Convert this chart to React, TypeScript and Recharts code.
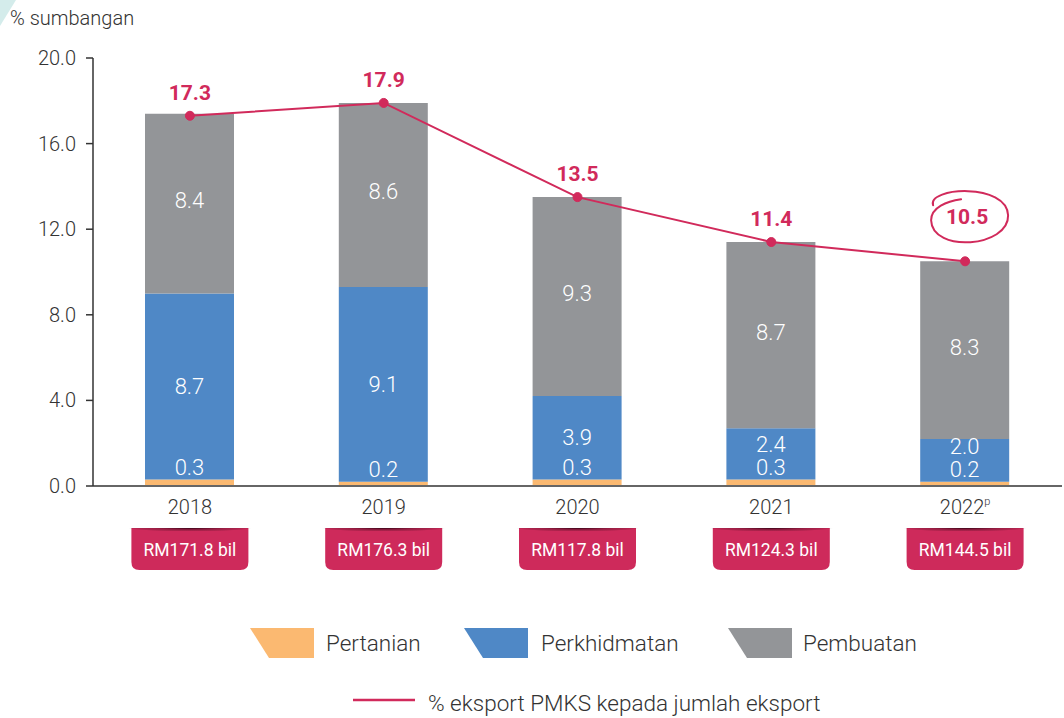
import React from 'react';
import { ComposedChart, Bar, Line, XAxis, YAxis, LabelList } from 'recharts';

const years = ['2018', '2019', '2020', '2021', '2022'];
const yearMarks = ['', '', '', '', 'p'];
const pertanian = [0.3, 0.2, 0.3, 0.3, 0.2];
const perkhidmatan = [8.7, 9.1, 3.9, 2.4, 2.0];
const pembuatan = [8.4, 8.6, 9.3, 8.7, 8.3];
const eksportShare = [17.3, 17.9, 13.5, 11.4, 10.5];
const eksportValue = ['RM171.8 bil', 'RM176.3 bil', 'RM117.8 bil', 'RM124.3 bil', 'RM144.5 bil'];
const highlighted = [false, false, false, false, true];
const yTicks = [0, 4, 8, 12, 16, 20];
const seriesNames = ['Pertanian', 'Perkhidmatan', 'Pembuatan'];
const lineName = '% eksport PMKS kepada jumlah eksport';
const yTitle = '% sumbangan';

const C_ORANGE = '#FBB971';
const C_BLUE = '#4F88C6';
const C_GRAY = '#939598';
const C_RED = '#D12A5B';
const C_TEXT = '#333333';
const FONT = 'Roboto, "Noto Sans", sans-serif';

const data = years.map((y, i) => ({
  year: y,
  mark: yearMarks[i],
  pertanian: pertanian[i],
  perkhidmatan: perkhidmatan[i],
  pembuatan: pembuatan[i],
  share: eksportShare[i],
  badge: eksportValue[i],
  hl: highlighted[i],
}));

const fmt = (v: number) => Number(v).toFixed(1);

const XTick = (props: any) => {
  const { x, y, payload, index } = props;
  const d = data[index] || data.find((r) => r.year === payload.value);
  const bw = 117;
  const top = y + 34;
  const h = 42;
  const r = 8;
  const left = x - bw / 2;
  const right = x + bw / 2;
  const path = `M${left},${top} L${right},${top} L${right},${top + h - r} Q${right},${top + h} ${right - r},${top + h} L${left + r},${top + h} Q${left},${top + h} ${left},${top + h - r} Z`;
  return (
    <g>
      <text x={x} y={y + 13} textAnchor="middle" dominantBaseline="central" fontFamily={FONT} fontWeight={300} fontSize={20} fill={C_TEXT}>
        {payload.value}
        {d && d.mark ? (
          <tspan fontSize={11} dy={-6}>{d.mark}</tspan>
        ) : null}
      </text>
      <path d={`M${x - 72},${top - 1} L${x + 72},${top - 1}`} stroke="url(#badgeLine)" strokeWidth={2} />
      <path d={path} fill="#CE2A5B" />
      <path d={`M${x - 62},${top} A62,7 0 0 0 ${x + 62},${top} Z`} fill="url(#badgeShadow)" />
      <text x={x} y={top + h / 2 + 1} textAnchor="middle" dominantBaseline="central" fontFamily={FONT} fontSize={17.5} fill="#ffffff">
        {d ? d.badge : ''}
      </text>
    </g>
  );
};

const YTick = (props: any) => {
  const { x, y, payload } = props;
  return (
    <text x={x} y={y} textAnchor="end" dominantBaseline="central" fontFamily={FONT} fontWeight={300} fontSize={20} fill={C_TEXT}>
      {fmt(payload.value)}
    </text>
  );
};

const whiteLabel = (cx: number, cy: number, v: any) => (
  <text x={cx} y={cy} textAnchor="middle" dominantBaseline="central" fontFamily={FONT} fontWeight={300} fontSize={22} fill="#ffffff">
    {fmt(v)}
  </text>
);

const PertanianLabel = (props: any) => {
  const { x, y, width, value } = props;
  return whiteLabel(x + width / 2, y - 12, value);
};

const PerkhidmatanLabel = (props: any) => {
  const { x, y, width, height, value } = props;
  const center = y + height / 2;
  const cy = Math.min(center, y + height - 35);
  return whiteLabel(x + width / 2, cy, value);
};

const PembuatanLabel = (props: any) => {
  const { x, y, width, height, value } = props;
  return whiteLabel(x + width / 2, y + height / 2 - 3, value);
};

const ShareLabel = (props: any) => {
  const { x, y, value, index } = props;
  const hl = data[index] && data[index].hl;
  const ly = hl ? y - 44 : y - 23;
  const cx = x + 2;
  return (
    <g>
      <text x={cx - (hl ? 0 : 2)} y={ly} textAnchor="middle" dominantBaseline="central" fontFamily={FONT} fontWeight={700} fontSize={21} fill={C_RED}>
        {fmt(value)}
      </text>
      {hl ? (
        <path
          fill="none"
          stroke={C_RED}
          strokeWidth={2}
          strokeLinecap="round"
          d={`M${cx - 34},${ly - 12} C${cx - 40},${ly - 30} ${cx + 40},${ly - 35} ${cx + 41},${ly - 2} C${cx + 42},${ly + 30} ${cx - 35},${ly + 36} ${cx - 36},${ly + 3} C${cx - 36},${ly - 10} ${cx - 20},${ly - 16} ${cx - 6},${ly - 18}`}
        />
      ) : null}
    </g>
  );
};

const Legend = () => {
  const items = [
    { name: seriesNames[0], color: C_ORANGE, sx: 250, tx: 326 },
    { name: seriesNames[1], color: C_BLUE, sx: 464, tx: 541 },
    { name: seriesNames[2], color: C_GRAY, sx: 728, tx: 803 },
  ];
  return (
    <svg width={1064} height={718} style={{ position: 'absolute', left: 0, top: 0, pointerEvents: 'none' }}>
      <polygon points="0,0 16,0 0,26" fill="#D4ECEB" />
      <text x={10} y={18} dominantBaseline="central" fontFamily={FONT} fontWeight={300} fontSize={20} fill={C_TEXT}>
        {yTitle}
      </text>
      {items.map((it) => (
        <g key={it.name}>
          <polygon points={`${it.sx},628 ${it.sx + 64},628 ${it.sx + 64},658 ${it.sx + 19},658`} fill={it.color} />
          <text x={it.tx} y={643} dominantBaseline="central" fontFamily={FONT} fontWeight={300} fontSize={22.5} fill={C_TEXT}>
            {it.name}
          </text>
        </g>
      ))}
      <line x1={353} y1={700} x2={415} y2={700} stroke={C_RED} strokeWidth={2.5} />
      <text x={428} y={703} dominantBaseline="central" fontFamily={FONT} fontWeight={300} fontSize={22.5} fill={C_TEXT}>
        {lineName}
      </text>
    </svg>
  );
};

export default function App() {
  return (
    <div style={{ position: 'absolute', left: 0, top: 0, width: 1064, height: 718, background: '#ffffff' }}>
      <ComposedChart
        width={1064}
        height={718}
        data={data}
        margin={{ top: 58, right: 2, bottom: 132, left: 0 }}
      >
        <defs>
          <radialGradient id="badgeShadow" cx="50%" cy="0%" r="50%" fx="50%" fy="0%">
            <stop offset="0%" stopColor="#2a0010" stopOpacity={0.95} />
            <stop offset="60%" stopColor="#5a1028" stopOpacity={0.4} />
            <stop offset="100%" stopColor="#000000" stopOpacity={0} />
          </radialGradient>
          <linearGradient id="badgeLine" x1="0" y1="0" x2="1" y2="0">
            <stop offset="0%" stopColor="#cccccc" stopOpacity={0} />
            <stop offset="20%" stopColor="#bbbbbb" stopOpacity={0.8} />
            <stop offset="80%" stopColor="#bbbbbb" stopOpacity={0.8} />
            <stop offset="100%" stopColor="#cccccc" stopOpacity={0} />
          </linearGradient>
        </defs>
        <XAxis
          dataKey="year"
          height={100}
          tickLine={false}
          axisLine={{ stroke: '#666666', strokeWidth: 2 }}
          tick={<XTick />}
          interval={0}
        />
        <YAxis
          width={93}
          domain={[0, 20]}
          ticks={yTicks}
          tickLine={{ stroke: C_TEXT, strokeWidth: 1.5 }}
          tickSize={7}
          tickMargin={10}
          axisLine={{ stroke: C_TEXT, strokeWidth: 1.5 }}
          tick={<YTick />}
          interval={0}
        />
        <Bar dataKey="pertanian" name={seriesNames[0]} stackId="a" fill={C_ORANGE} barSize={89} isAnimationActive={false}>
          <LabelList dataKey="pertanian" content={<PertanianLabel />} />
        </Bar>
        <Bar dataKey="perkhidmatan" name={seriesNames[1]} stackId="a" fill={C_BLUE} barSize={89} isAnimationActive={false}>
          <LabelList dataKey="perkhidmatan" content={<PerkhidmatanLabel />} />
        </Bar>
        <Bar dataKey="pembuatan" name={seriesNames[2]} stackId="a" fill={C_GRAY} barSize={89} isAnimationActive={false}>
          <LabelList dataKey="pembuatan" content={<PembuatanLabel />} />
        </Bar>
        <Line
          dataKey="share"
          name={lineName}
          stroke={C_RED}
          strokeWidth={2}
          dot={{ r: 4.5, fill: C_RED, stroke: C_RED, strokeWidth: 1 }}
          isAnimationActive={false}
        >
          <LabelList dataKey="share" content={<ShareLabel />} />
        </Line>
      </ComposedChart>
      <Legend />
    </div>
  );
}
